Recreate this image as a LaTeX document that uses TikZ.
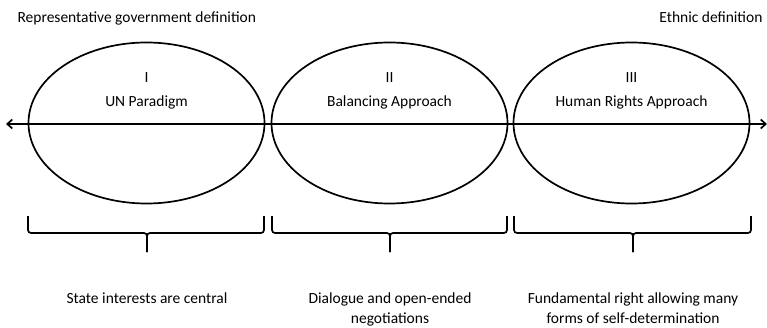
\documentclass[tikz,border=0pt]{standalone}
\usepackage{fontspec}
\setmainfont{Carlito}
\usepackage{tikz}
\usetikzlibrary{shapes.geometric,arrows.meta}

\begin{document}
\begin{tikzpicture}[x=1pt,y=1pt,font=\fontsize{15.5}{20}\selectfont]
    \useasboundingbox (0,0) rectangle (767,327);
    % three approaches
    \node[draw,ellipse,line width=1.7pt,minimum width=236,minimum height=161,inner sep=0] (un) at (146.5,204) {};
    \node[draw,ellipse,line width=1.7pt,minimum width=236,minimum height=161,inner sep=0] (bal) at (389.5,204) {};
    \node[draw,ellipse,line width=1.7pt,minimum width=236,minimum height=161,inner sep=0] (hr) at (631.5,204) {};
    \node[anchor=base] (unnum) at (146.5,244) {I};
    \node[anchor=base] (untxt) at (146.5,220) {UN Paradigm};
    \node[anchor=base] (balnum) at (389.5,244) {II};
    \node[anchor=base] (baltxt) at (389.5,220) {Balancing Approach};
    \node[anchor=base] (hrnum) at (631.5,244) {III};
    \node[anchor=base] (hrtxt) at (631.5,220) {Human Rights Approach};
    % axis
    \node[anchor=base west] (rep) at (14,304.5) {Representative government definition};
    \node[anchor=base east] (eth) at (766,304.5) {Ethnic definition};
    \coordinate (left) at (6,203);
    \coordinate (right) at (767,203);
    \draw[{Straight Barb[length=5pt,width=9pt]}-{Straight Barb[length=5pt,width=9pt]},line width=1.7pt] (left) -- (right);
    % brackets
    \draw[line width=1.7pt,rounded corners=3pt] (28,111) -- (28,94) -- (147,94) -- (147,75);
    \draw[line width=1.7pt,rounded corners=3pt] (264,111) -- (264,94) -- (147,94) -- (147,75);
    \draw[line width=1.7pt,rounded corners=3pt] (272,111) -- (272,94) -- (390,94) -- (390,75);
    \draw[line width=1.7pt,rounded corners=3pt] (507,111) -- (507,94) -- (390,94) -- (390,75);
    \draw[line width=1.7pt,rounded corners=3pt] (514,111) -- (514,94) -- (633,94) -- (633,75);
    \draw[line width=1.7pt,rounded corners=3pt] (751,111) -- (751,94) -- (633,94) -- (633,75);
    % descriptions
    \node[anchor=base] (state) at (147,24) {State interests are central};
    \node[anchor=base,align=center] (dial) at (390,4) {Dialogue and open-ended\\negotiations};
    \node[anchor=base,align=center] (fund) at (633,4) {Fundamental right allowing many\\forms of self-determination};
\end{tikzpicture}
\end{document}
